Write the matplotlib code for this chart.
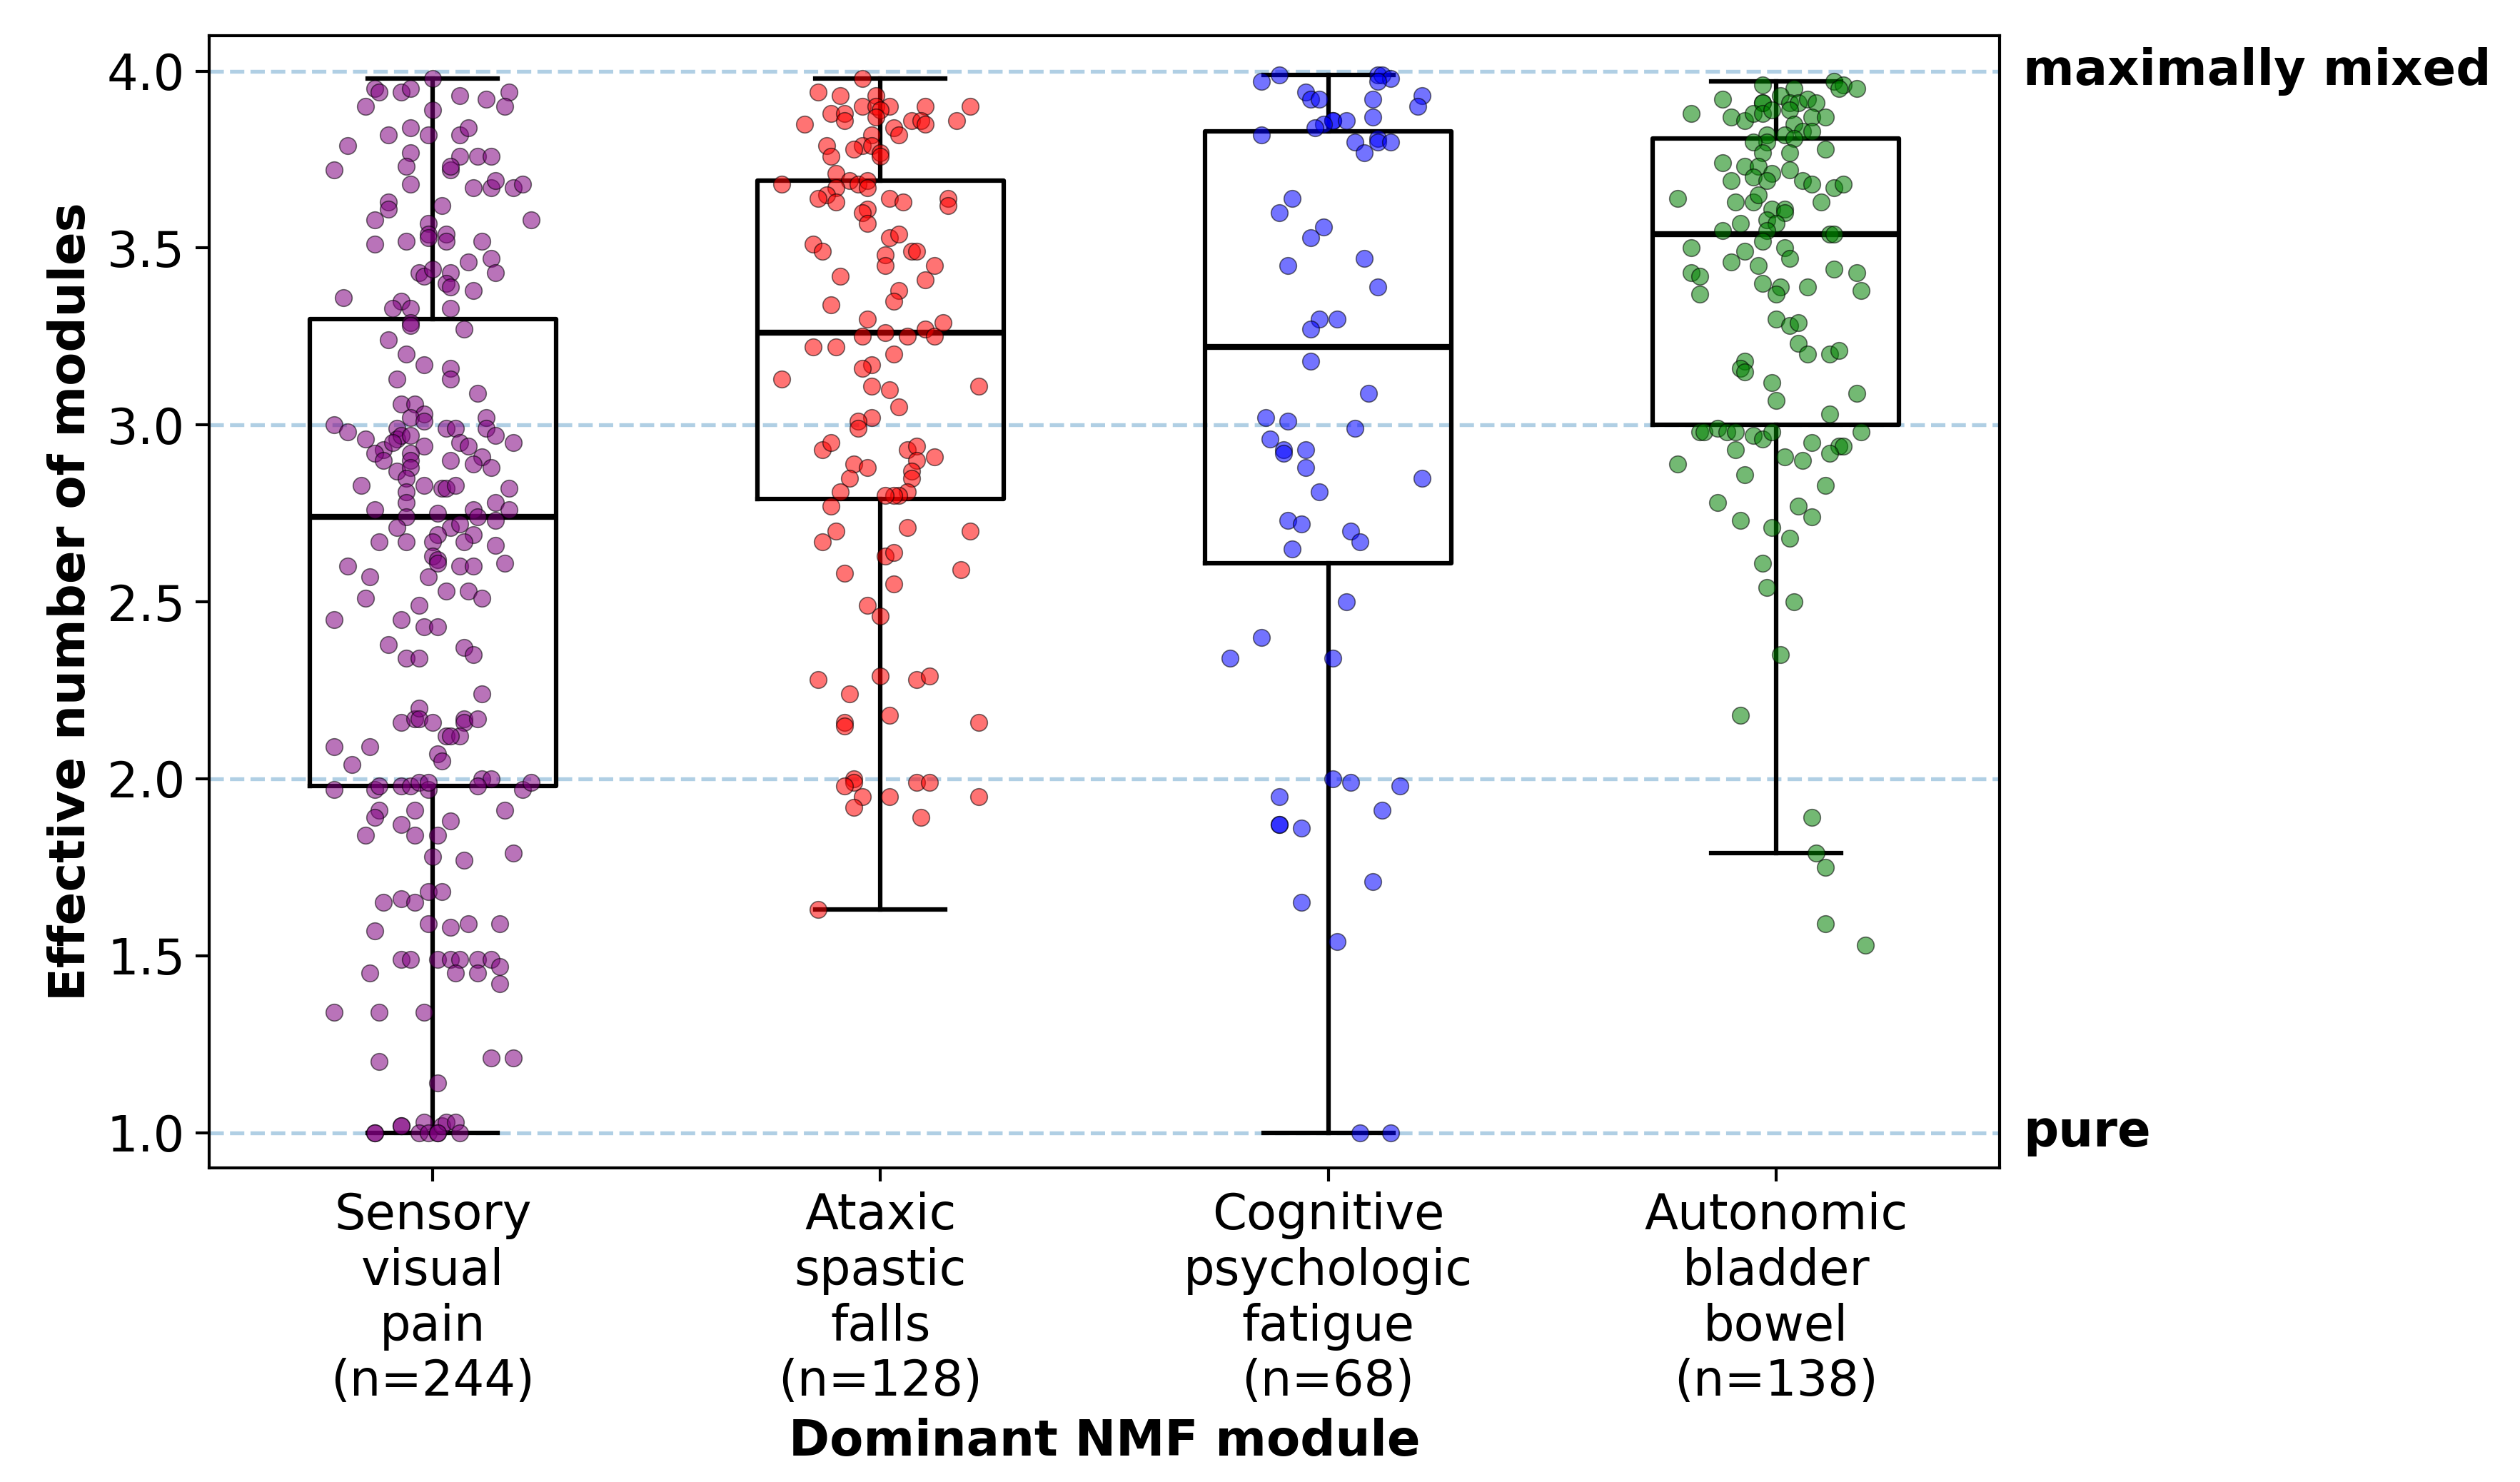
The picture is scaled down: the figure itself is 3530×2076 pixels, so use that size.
import matplotlib
matplotlib.use("Agg")
import matplotlib.pyplot as plt
import matplotlib.transforms as mtransforms
import numpy as np

# category labels / colours
labels = ["Sensory\nvisual\npain\n(n=244)",
          "Ataxic\nspastic\nfalls\n(n=128)",
          "Cognitive\npsychologic\nfatigue\n(n=68)",
          "Autonomic\nbladder\nbowel\n(n=138)"]
colors = ["purple", "red", "blue", "green"]

# box statistics
q1 = [1.98, 2.79, 2.61, 3.00]
med = [2.74, 3.26, 3.22, 3.54]
q3 = [3.30, 3.69, 3.83, 3.81]
whislo = [1.00, 1.63, 1.00, 1.79]
whishi = [3.98, 3.98, 3.99, 3.97]

# effective number of modules per patient (visible points) and their jitter
sens_y = [3.95, 3.94, 3.94, 3.95, 3.98, 3.93, 3.92, 3.94, 3.90, 3.90,
          3.89, 3.82, 3.84, 3.82, 3.82, 3.84, 3.79, 3.77, 3.76, 3.76,
          3.76, 3.72, 3.73, 3.72, 3.73, 3.68, 3.67, 3.67, 3.69, 3.67,
          3.68, 3.63, 3.61, 3.58, 3.62, 3.58, 3.57, 3.54, 3.53, 3.54,
          3.52, 3.51, 3.52, 3.52, 3.46, 3.47, 3.43, 3.43, 3.42, 3.44,
          3.43, 3.40, 3.39, 3.38, 3.36, 3.35, 3.33, 3.33, 3.33, 3.29,
          3.28, 3.27, 3.24, 3.20, 3.17, 3.16, 3.13, 3.13, 3.09, 3.06,
          3.06, 3.03, 3.02, 3.02, 3.00, 2.98, 2.99, 3.01, 2.99, 2.99,
          2.99, 2.97, 2.96, 2.96, 2.97, 2.97, 2.95, 2.93, 2.92, 2.90,
          2.95, 2.94, 2.92, 2.90, 2.90, 2.95, 2.94, 2.91, 2.89, 2.88,
          2.87, 2.88, 2.85, 2.83, 2.83, 2.82, 2.82, 2.83, 2.82, 2.81,
          2.78, 2.76, 2.76, 2.78, 2.76, 2.75, 2.74, 2.74, 2.73, 2.71,
          2.71, 2.72, 2.69, 2.69, 2.67, 2.67, 2.67, 2.67, 2.66, 2.63,
          2.62, 2.61, 2.60, 2.60, 2.60, 2.61, 2.57, 2.57, 2.53, 2.53,
          2.51, 2.51, 2.49, 2.45, 2.45, 2.43, 2.43, 2.38, 2.34, 2.34,
          2.37, 2.35, 2.24, 2.16, 2.17, 2.20, 2.17, 2.16, 2.17, 2.16,
          2.17, 2.12, 2.12, 2.12, 2.09, 2.09, 2.04, 2.07, 2.05, 1.97,
          1.97, 1.98, 1.98, 1.98, 1.99, 1.97, 1.99, 2.00, 2.00, 1.98,
          1.97, 1.99, 1.91, 1.89, 1.91, 1.87, 1.84, 1.84, 1.88, 1.84,
          1.91, 1.78, 1.77, 1.79, 1.65, 1.66, 1.65, 1.68, 1.68, 1.57,
          1.59, 1.58, 1.59, 1.59, 1.49, 1.49, 1.49, 1.49, 1.49, 1.49,
          1.49, 1.47, 1.45, 1.45, 1.45, 1.42, 1.34, 1.34, 1.34, 1.20,
          1.21, 1.21, 1.14, 1.00, 1.00, 1.02, 1.02, 1.03, 1.00, 1.00,
          1.00, 1.02, 1.03, 1.03, 1.00, 1.00]
sens_jit = [-0.13, -0.12, -0.07, -0.05, 0.00, 0.06, 0.12, 0.17, 0.16, -0.15,
            0.00, -0.10, -0.05, -0.01, 0.06, 0.08, -0.19, -0.05, 0.06, 0.10,
            0.13, -0.22, -0.06, 0.04, 0.04, -0.05, 0.09, 0.13, 0.14, 0.18,
            0.20, -0.10, -0.10, -0.13, 0.02, 0.22, -0.01, -0.01, -0.01, 0.03,
            0.03, -0.13, -0.06, 0.11, 0.08, 0.13, 0.14, -0.03, -0.02, 0.00,
            0.04, 0.03, 0.04, 0.09, -0.20, -0.07, -0.09, -0.05, 0.04, -0.05,
            -0.05, 0.07, -0.10, -0.06, -0.02, 0.04, 0.04, -0.08, 0.10, -0.07,
            -0.04, -0.02, -0.05, 0.12, -0.22, -0.19, -0.08, -0.02, 0.03, 0.05,
            0.12, 0.14, -0.15, -0.08, -0.07, -0.05, 0.18, -0.11, -0.13, -0.11,
            -0.09, -0.02, -0.05, -0.05, 0.04, 0.06, 0.08, 0.11, 0.09, 0.13,
            -0.08, -0.05, -0.06, -0.16, -0.02, 0.02, 0.03, 0.05, 0.17, -0.06,
            -0.06, -0.13, 0.09, 0.14, 0.17, 0.01, 0.10, -0.06, 0.14, -0.08,
            0.04, 0.06, 0.01, 0.09, -0.12, -0.06, 0.00, 0.07, 0.14, 0.00,
            0.01, 0.01, -0.19, 0.06, 0.09, 0.16, -0.14, -0.01, 0.03, 0.08,
            0.11, -0.15, -0.03, -0.22, -0.07, -0.02, 0.01, -0.10, -0.06, -0.03,
            0.07, 0.09, 0.11, -0.07, -0.04, -0.03, -0.03, 0.00, 0.07, 0.07,
            0.10, 0.03, 0.06, 0.04, -0.22, -0.14, -0.18, 0.01, 0.02, -0.22,
            -0.13, -0.12, -0.07, -0.05, -0.03, -0.01, -0.01, 0.11, 0.13, 0.10,
            0.20, 0.22, -0.12, -0.13, -0.04, -0.07, -0.04, -0.15, 0.04, 0.01,
            0.16, 0.00, 0.07, 0.18, -0.11, -0.07, -0.04, -0.01, 0.02, -0.13,
            -0.01, 0.04, 0.08, 0.15, -0.07, -0.05, 0.01, 0.04, 0.06, 0.10,
            0.13, 0.15, -0.14, 0.05, 0.10, 0.15, -0.22, -0.12, -0.02, -0.12,
            0.13, 0.18, 0.01, -0.13, -0.13, -0.07, -0.07, -0.02, -0.03, -0.01,
            0.01, 0.02, 0.03, 0.05, 0.06, 0.01]

atax_y = [3.98, 3.94, 3.93, 3.90, 3.93, 3.90, 3.90, 3.89, 3.87, 3.88,
          3.88, 3.86, 3.85, 3.90, 3.90, 3.86, 3.86, 3.85, 3.86, 3.84,
          3.82, 3.82, 3.79, 3.79, 3.78, 3.79, 3.76, 3.77, 3.76, 3.71,
          3.69, 3.68, 3.69, 3.67, 3.67, 3.68, 3.65, 3.64, 3.63, 3.64,
          3.63, 3.64, 3.62, 3.61, 3.60, 3.57, 3.51, 3.49, 3.53, 3.54,
          3.48, 3.45, 3.49, 3.49, 3.45, 3.42, 3.41, 3.38, 3.35, 3.34,
          3.30, 3.26, 3.25, 3.25, 3.27, 3.25, 3.29, 3.22, 3.22, 3.20,
          3.17, 3.16, 3.13, 3.11, 3.10, 3.11, 3.05, 3.02, 3.01, 2.99,
          2.93, 2.95, 2.93, 2.94, 2.90, 2.91, 2.89, 2.88, 2.85, 2.87,
          2.85, 2.81, 2.80, 2.80, 2.80, 2.81, 2.77, 2.70, 2.71, 2.70,
          2.67, 2.63, 2.64, 2.58, 2.55, 2.59, 2.49, 2.46, 2.28, 2.29,
          2.28, 2.29, 2.24, 2.18, 2.16, 2.16, 2.15, 2.00, 1.99, 1.98,
          1.99, 1.99, 1.95, 1.95, 1.95, 1.92, 1.89, 1.63]
atax_jit = [-0.04, -0.14, -0.09, -0.04, -0.01, -0.01, 0.02, 0.00, -0.01, -0.11,
            -0.08, -0.08, -0.17, 0.10, 0.20, 0.07, 0.09, 0.10, 0.17, 0.03,
            0.04, -0.02, -0.04, -0.02, -0.06, -0.12, -0.11, 0.00, 0.00, -0.10,
            -0.07, -0.05, -0.03, -0.10, -0.03, -0.22, -0.12, -0.14, -0.10, 0.02,
            0.05, 0.15, 0.15, -0.03, -0.04, -0.03, -0.15, -0.13, 0.02, 0.04,
            0.01, 0.01, 0.07, 0.08, 0.12, -0.09, 0.10, 0.04, 0.03, -0.11,
            -0.03, 0.01, -0.04, 0.06, 0.10, 0.12, 0.14, -0.15, -0.10, 0.03,
            -0.02, -0.04, -0.22, -0.02, 0.02, 0.22, 0.04, -0.02, -0.05, -0.05,
            -0.13, -0.11, 0.06, 0.08, 0.08, 0.12, -0.06, -0.03, -0.07, 0.07,
            0.07, 0.06, 0.04, 0.03, 0.01, -0.09, -0.11, -0.10, 0.06, 0.20,
            -0.13, 0.01, 0.03, -0.08, 0.03, 0.18, -0.03, 0.00, -0.14, 0.00,
            0.08, 0.11, -0.07, 0.02, 0.22, -0.08, -0.08, -0.06, -0.06, -0.08,
            0.08, 0.11, -0.04, 0.02, 0.22, -0.06, 0.09, -0.14]

cogn_y = [3.97, 3.99, 3.99, 3.99, 3.98, 3.97, 3.94, 3.92, 3.92, 3.92,
          3.93, 3.90, 3.87, 3.86, 3.86, 3.86, 3.85, 3.84, 3.82, 3.80,
          3.81, 3.80, 3.80, 3.77, 3.64, 3.60, 3.56, 3.53, 3.47, 3.45,
          3.39, 3.30, 3.30, 3.27, 3.18, 3.09, 3.02, 3.01, 2.99, 2.96,
          2.93, 2.92, 2.93, 2.88, 2.85, 2.81, 2.73, 2.72, 2.70, 2.67,
          2.65, 2.50, 2.40, 2.34, 2.34, 2.00, 1.99, 1.98, 1.95, 1.91,
          1.87, 1.87, 1.86, 1.71, 1.65, 1.54, 1.00, 1.00]
cogn_jit = [-0.15, -0.11, 0.11, 0.12, 0.14, 0.11, -0.05, -0.04, -0.02, 0.10,
            0.21, 0.20, 0.10, 0.01, 0.01, 0.04, -0.01, -0.03, -0.15, 0.06,
            0.11, 0.11, 0.14, 0.08, -0.08, -0.11, -0.01, -0.04, 0.08, -0.09,
            0.11, -0.02, 0.02, -0.04, -0.04, 0.09, -0.14, -0.09, 0.06, -0.13,
            -0.10, -0.10, -0.05, -0.05, 0.21, -0.02, -0.09, -0.06, 0.05, 0.07,
            -0.08, 0.04, -0.15, -0.22, 0.01, 0.01, 0.05, 0.16, -0.11, 0.12,
            -0.11, -0.11, -0.06, 0.10, -0.06, 0.02, 0.07, 0.14]

auto_y = [3.96, 3.95, 3.97, 3.96, 3.95, 3.95, 3.92, 3.91, 3.91, 3.93,
          3.91, 3.91, 3.92, 3.91, 3.88, 3.87, 3.86, 3.88, 3.88, 3.89,
          3.89, 3.87, 3.87, 3.85, 3.83, 3.82, 3.83, 3.82, 3.80, 3.80,
          3.81, 3.77, 3.77, 3.78, 3.74, 3.73, 3.73, 3.71, 3.70, 3.69,
          3.72, 3.69, 3.68, 3.67, 3.68, 3.69, 3.64, 3.63, 3.63, 3.65,
          3.63, 3.61, 3.61, 3.60, 3.58, 3.57, 3.57, 3.55, 3.55, 3.52,
          3.54, 3.54, 3.50, 3.49, 3.50, 3.47, 3.46, 3.45, 3.44, 3.43,
          3.43, 3.42, 3.40, 3.39, 3.37, 3.39, 3.38, 3.37, 3.30, 3.28,
          3.29, 3.23, 3.20, 3.20, 3.21, 3.18, 3.16, 3.15, 3.12, 3.07,
          3.09, 3.03, 2.98, 2.98, 2.99, 2.98, 2.98, 2.97, 2.96, 2.98,
          2.98, 2.93, 2.95, 2.94, 2.94, 2.92, 2.89, 2.91, 2.90, 2.86,
          2.83, 2.78, 2.77, 2.74, 2.73, 2.71, 2.68, 2.61, 2.54, 2.50,
          2.35, 2.18, 1.89, 1.79, 1.75, 1.59, 1.53]
auto_jit = [-0.03, 0.04, 0.13, 0.15, 0.14, 0.18, -0.12, -0.03, -0.03, 0.01,
            0.03, 0.05, 0.07, 0.09, -0.19, -0.10, -0.07, -0.05, -0.03, -0.01,
            0.03, 0.08, 0.11, 0.04, 0.06, 0.02, 0.08, -0.02, -0.02, -0.05,
            0.04, -0.03, 0.03, 0.11, -0.12, -0.07, -0.04, -0.01, -0.05, -0.02,
            0.03, 0.06, 0.08, 0.13, 0.15, -0.10, -0.22, -0.09, -0.05, -0.04,
            0.10, -0.01, 0.02, 0.02, -0.02, 0.00, -0.08, -0.12, -0.02, -0.03,
            0.12, 0.13, -0.19, -0.07, 0.02, 0.03, -0.10, -0.04, 0.13, 0.18,
            -0.19, -0.17, -0.03, 0.01, 0.00, 0.07, 0.19, -0.17, 0.00, 0.03,
            0.05, 0.05, 0.07, 0.12, 0.14, -0.07, -0.08, -0.07, -0.01, 0.00,
            0.18, 0.12, -0.17, -0.16, -0.13, -0.11, -0.09, -0.05, -0.03, -0.01,
            0.19, -0.09, 0.08, 0.14, 0.15, 0.12, -0.22, 0.02, 0.06, -0.07,
            0.11, -0.13, 0.05, 0.08, -0.08, -0.01, 0.03, -0.03, -0.02, 0.04,
            0.01, -0.08, 0.08, 0.09, 0.11, 0.11, 0.20]

values = [sens_y, atax_y, cogn_y, auto_y]
jitters = [sens_jit, atax_jit, cogn_jit, auto_jit]

fs = 16.5

fig = plt.figure(figsize=(3530 / 300, 2076 / 300), dpi=300)
ax = fig.add_axes([0.0829, 0.2119, 0.7107, 0.764])

# reference lines
for yv in [1, 2, 3, 4]:
    ax.axhline(yv, color="tab:blue", alpha=0.35, ls="--", lw=1.3, zorder=0)

stats = []
for i in range(4):
    stats.append(dict(med=med[i], q1=q1[i], q3=q3[i],
                      whislo=whislo[i], whishi=whishi[i], fliers=[]))
ax.bxp(stats, positions=range(4), widths=0.55, capwidths=0.29,
       showfliers=False,
       boxprops=dict(color="black", lw=1.5),
       medianprops=dict(color="black", lw=2.0),
       whiskerprops=dict(color="black", lw=1.5),
       capprops=dict(color="black", lw=1.5))

for i in range(4):
    x = i + np.asarray(jitters[i])
    y = np.asarray(values[i])
    ax.scatter(x, y, s=32, color=colors[i], alpha=0.55,
               edgecolors="k", linewidths=0.4, zorder=3)

ax.set_xlim(-0.5, 3.5)
ax.set_ylim(0.9, 4.1)
ax.set_xticks(range(4))
ax.set_xticklabels(labels, fontsize=fs)
ax.tick_params(axis="both", labelsize=fs, length=4.5, width=1.0)
for sp in ax.spines.values():
    sp.set_linewidth(1.0)

ax.set_ylabel("Effective number of modules", fontsize=fs, fontweight="bold")
ax.set_xlabel("Dominant NMF module", fontsize=fs, fontweight="bold")

trans = mtransforms.blended_transform_factory(ax.transAxes, ax.transData)
ax.text(1.013, 4.0, "maximally mixed", transform=trans, fontsize=fs,
        fontweight="bold", va="center", ha="left")
ax.text(1.013, 1.0, "pure", transform=trans, fontsize=fs,
        fontweight="bold", va="center", ha="left")

fig.savefig("out.png", dpi=300)
